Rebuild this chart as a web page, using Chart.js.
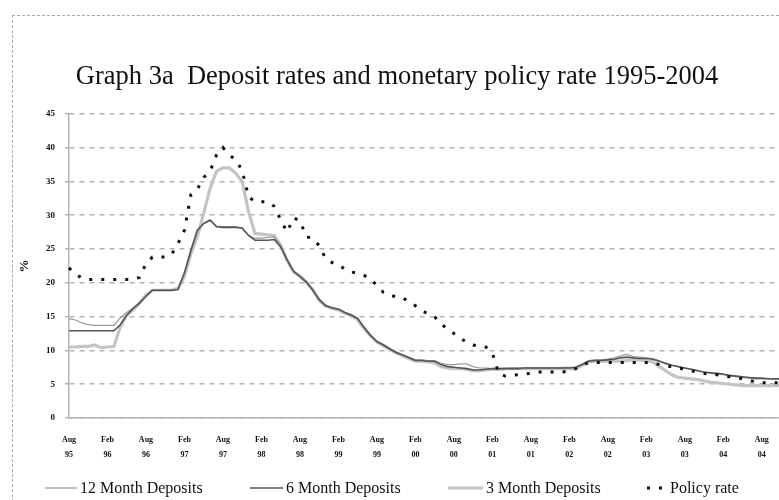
<!DOCTYPE html>
<html>
<head>
<meta charset="utf-8">
<script src="https://cdn.jsdelivr.net/npm/chart.js@4.4.1/dist/chart.umd.min.js"></script>
<style>
    html, body { margin: 0; padding: 0; background: #fff; overflow: hidden; width: 779px; height: 500px; }
    #frame { position: absolute; left: 12px; top: 15px; width: 800px; height: 520px; border: 1.5px dashed #a8a8a8; }
    #chart { position: absolute; left: 0; top: 0; }
</style>
</head>
<body>
<div id="frame"></div>
<canvas id="chart" width="795" height="500"></canvas>
<script>
// monthly, Aug 1995 .. Nov 2004
const monthNames = ['Jan', 'Feb', 'Mar', 'Apr', 'May', 'Jun', 'Jul', 'Aug', 'Sep', 'Oct', 'Nov', 'Dec'];
const months = [];
for (let i = 0; i < 112; i++) {
    const m = (7 + i) % 12;
    const y = 1995 + Math.floor((7 + i) / 12);
    months.push(monthNames[m] + ' ' + String(y).slice(2));
}

const policyRate = [
    22.2, 21.3, 20.7, 20.5, 20.5, 20.5, 20.5, 20.5, 20.5, 20.5, 20.5, 20.8,
    22.8, 23.8, 23.8, 23.8, 24.2, 25.8, 27.8, 33.0, 33.8, 35.6, 36.5, 38.9,
    40.0, 38.9, 38.2, 36.6, 32.7, 32.0, 32.0, 32.0, 31.3, 29.3, 27.5, 29.6,
    29.2, 26.8, 26.6, 25.5, 23.6, 23.0, 22.7, 22.0, 21.6, 21.4, 21.1, 20.6,
    19.6, 18.6, 18.1, 18.0, 17.8, 17.2, 16.6, 15.9, 15.4, 15.0, 13.9, 13.2,
    12.5, 11.8, 11.2, 10.8, 10.6, 10.5, 9.6, 6.6, 6.2, 6.3, 6.4, 6.5,
    6.6, 6.8, 6.8, 6.8, 6.8, 6.8, 7.0, 7.3, 7.8, 8.2, 8.2, 8.2,
    8.2, 8.2, 8.2, 8.2, 8.2, 8.2, 8.2, 8.2, 7.9, 7.7, 7.6, 7.4,
    7.2, 7.0, 6.8, 6.6, 6.5, 6.4, 6.2, 6.1, 6.0, 5.8, 5.5, 5.4,
    5.2, 5.2, 5.2, 5.2
];

const dep12m = [
    14.7, 14.5, 14.1, 13.8, 13.7, 13.7, 13.7, 13.7, 14.8, 15.6, 16.3, 17.1,
    18.0, 18.9, 18.9, 18.9, 18.9, 19.0, 21.5, 24.5, 27.5, 28.7, 29.2, 28.4,
    28.3, 28.3, 28.3, 28.0, 27.0, 26.6, 26.6, 26.7, 26.8, 25.5, 23.5, 21.8,
    21.0, 20.2, 19.0, 17.6, 16.6, 16.3, 16.1, 15.6, 15.3, 14.8, 13.5, 12.3,
    11.4, 10.9, 10.3, 9.8, 9.4, 9.0, 8.6, 8.6, 8.5, 8.5, 8.1, 7.9,
    7.9, 8.0, 8.0, 7.6, 7.4, 7.4, 7.3, 7.2, 7.3, 7.4, 7.4, 7.4,
    7.4, 7.4, 7.4, 7.4, 7.4, 7.5, 7.5, 7.5, 8.0, 8.5, 8.6, 8.6,
    8.7, 8.9, 9.2, 9.4, 9.1, 9.0, 8.9, 8.8, 8.5, 8.0, 7.8, 7.6,
    7.4, 7.2, 7.0, 6.8, 6.6, 6.5, 6.4, 6.2, 6.1, 6.0, 5.9, 5.8,
    5.8, 5.8, 5.7, 5.7
];

const dep6m = [
    12.9, 12.9, 12.9, 12.9, 12.9, 12.9, 12.9, 12.9, 13.8, 15.2, 16.2, 17.0,
    18.0, 18.9, 18.9, 18.9, 18.9, 19.0, 21.5, 24.8, 27.8, 28.8, 29.3, 28.3,
    28.2, 28.2, 28.2, 28.1, 27.0, 26.3, 26.3, 26.3, 26.4, 25.3, 23.4, 21.7,
    20.9, 20.1, 18.9, 17.5, 16.6, 16.3, 16.1, 15.6, 15.2, 14.7, 13.4, 12.2,
    11.3, 10.8, 10.2, 9.7, 9.3, 8.9, 8.5, 8.5, 8.4, 8.4, 7.9, 7.6,
    7.5, 7.4, 7.3, 7.1, 7.1, 7.2, 7.3, 7.3, 7.3, 7.3, 7.3, 7.4,
    7.4, 7.4, 7.4, 7.4, 7.4, 7.4, 7.4, 7.5, 7.9, 8.4, 8.5, 8.5,
    8.6, 8.7, 8.9, 9.0, 8.9, 8.8, 8.8, 8.7, 8.4, 8.1, 7.8, 7.6,
    7.4, 7.2, 7.0, 6.8, 6.7, 6.6, 6.5, 6.3, 6.2, 6.1, 6.0, 5.9,
    5.9, 5.8, 5.8, 5.8
];

const dep3m = [
    10.5, 10.5, 10.6, 10.6, 10.8, 10.4, 10.5, 10.6, 13.5, 15.2, 16.0, 17.0,
    18.2, 18.9, 18.9, 18.9, 18.9, 19.2, 21.0, 24.3, 26.8, 30.3, 34.0, 36.5,
    37.0, 37.0, 36.2, 35.0, 30.5, 27.3, 27.2, 27.1, 27.0, 25.5, 23.3, 21.6,
    21.0, 20.1, 19.0, 17.4, 16.6, 16.2, 16.0, 15.5, 15.2, 14.5, 13.2, 12.2,
    11.2, 10.7, 10.1, 9.6, 9.2, 8.8, 8.4, 8.4, 8.3, 8.2, 7.6, 7.4,
    7.3, 7.3, 7.2, 7.0, 7.0, 7.1, 7.2, 7.2, 7.3, 7.3, 7.3, 7.3,
    7.3, 7.3, 7.3, 7.3, 7.3, 7.3, 7.3, 7.3, 7.8, 8.3, 8.4, 8.4,
    8.4, 8.4, 8.4, 8.5, 8.6, 8.6, 8.5, 8.3, 7.6, 7.0, 6.4, 6.0,
    5.9, 5.8, 5.7, 5.5, 5.3, 5.2, 5.1, 5.0, 4.9, 4.8, 4.8, 4.8,
    4.8, 4.8, 4.8, 4.8
];

const yTicks = [0, 5, 10, 15, 20, 25, 30, 35, 40, 45];

const serif = "'Liberation Serif', 'DejaVu Serif', serif";
const gridGrey = '#b4b4b4';

// legend drawn by hand so the spacing follows the original
const legendSlots = [
    { ds: 0, x: 45, len: 32 },
    { ds: 1, x: 250, len: 33 },
    { ds: 2, x: 448, len: 35 },
    { ds: 3, x: 647, len: 20 }
];

const bottomLegend = {
    id: 'bottomLegend',
    afterDraw(chart) {
        const ctx = chart.ctx;
        const y = 488;
        ctx.save();
        ctx.font = '16px ' + serif;
        ctx.textBaseline = 'middle';
        ctx.fillStyle = '#111';
        legendSlots.forEach(s => {
            const ds = chart.data.datasets[s.ds];
            ctx.strokeStyle = ds.borderColor;
            ctx.lineWidth = ds.borderWidth;
            ctx.setLineDash(ds.borderDash || []);
            ctx.beginPath();
            ctx.moveTo(s.x, y);
            ctx.lineTo(s.x + s.len, y);
            ctx.stroke();
            ctx.fillText(ds.label, s.x + s.len + 3, y + 1);
        });
        ctx.restore();
    }
};

new Chart(document.getElementById('chart').getContext('2d'), {
    type: 'line',
    data: {
        labels: months,
        datasets: [
            { label: '12 Month Deposits', data: dep12m, borderColor: '#9a9a9a', borderWidth: 1.2, order: 2 },
            { label: '6 Month Deposits', data: dep6m, borderColor: '#555555', borderWidth: 1.6, order: 1 },
            { label: '3 Month Deposits', data: dep3m, borderColor: '#c4c4c4', borderWidth: 3.2, order: 3 },
            { label: 'Policy rate', data: policyRate, borderColor: '#111111', borderWidth: 3, borderDash: [3, 9], order: 0 }
        ]
    },
    options: {
        responsive: false,
        animation: false,
        layout: { padding: { left: 13, right: 14, top: 0, bottom: 32 } },
        elements: { point: { radius: 0 }, line: { tension: 0, fill: false } },
        plugins: {
            legend: { display: false },
            tooltip: { enabled: false },
            title: {
                display: true,
                text: 'Graph 3a  Deposit rates and monetary policy rate 1995-2004',
                color: '#111',
                font: { family: serif, size: 26.5, weight: 'normal', lineHeight: 1.2 },
                padding: { top: 61, bottom: 21 }
            }
        },
        scales: {
            x: {
                type: 'category',
                offset: false,
                afterFit: (s) => { s.height = 50; },
                border: { display: true, color: gridGrey, width: 1.5, dash: [4, 4] },
                grid: { display: false },
                ticks: {
                    autoSkip: false,
                    maxRotation: 0,
                    padding: 6,
                    color: '#111',
                    font: { family: serif, size: 8, weight: 'bold', lineHeight: 1.9 },
                    callback: function(val, i) {
                        if (i % 6 !== 0) return null;
                        return months[i].split(' ');
                    }
                }
            },
            y: {
                min: 0,
                max: 45,
                afterFit: (s) => { s.width = 56; },
                afterBuildTicks: (s) => { s.ticks = yTicks.map(v => ({ value: v })); },
                border: { display: true, color: gridGrey, width: 1.5, dash: [5, 5] },
                grid: { color: gridGrey, lineWidth: 1.5, tickLength: 4, tickBorderDash: [], borderDash: [5, 5] },
                ticks: { padding: 10, color: '#111', font: { family: serif, size: 9, weight: 'bold' } },
                title: {
                    display: true,
                    text: '%',
                    color: '#111',
                    font: { family: serif, size: 13, weight: 'bold' },
                    padding: { top: 4, bottom: 0 }
                }
            }
        }
    },
    plugins: [bottomLegend]
});
</script>
</body>
</html>
